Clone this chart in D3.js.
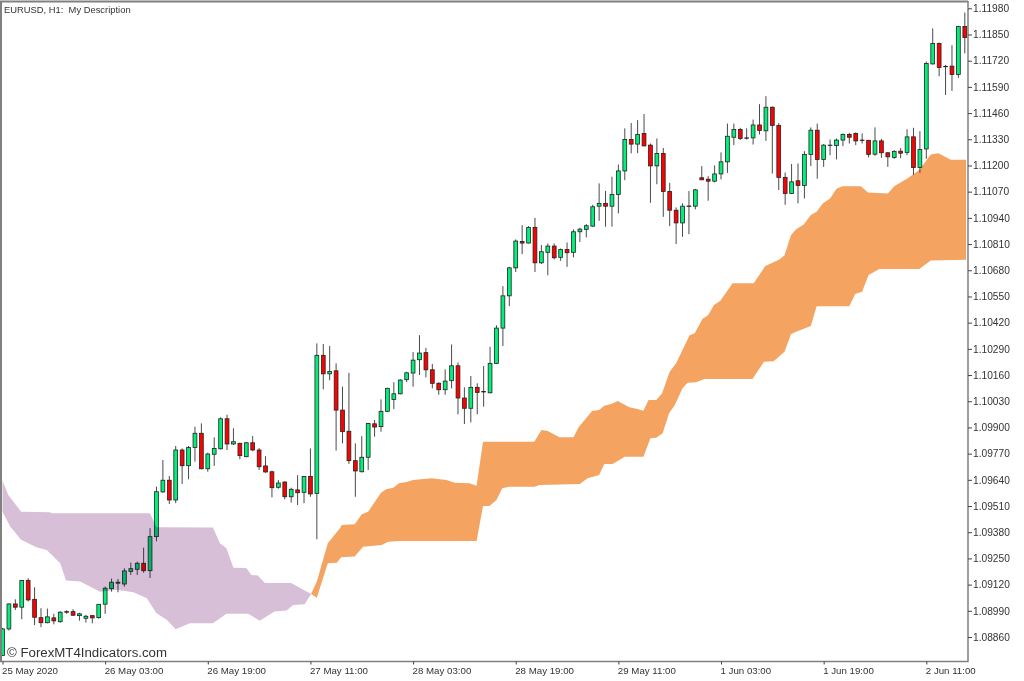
<!DOCTYPE html>
<html>
<head>
<meta charset="utf-8">
<script src="https://cdn.jsdelivr.net/npm/d3@7"></script>
<style>
  html, body { margin: 0; padding: 0; background: #fff; }
  svg { display: block; filter: blur(0.25px); }
  text { font-family: "Liberation Sans", Arial, sans-serif; fill: #333; }
</style>
</head>
<body>
<svg id="chart" width="1024" height="681"></svg>
<script>
const priceTicks = [1.11980, 1.11850, 1.11720, 1.11590, 1.11460, 1.11330, 1.11200, 1.11070, 1.10940, 1.10810,
  1.10680, 1.10550, 1.10420, 1.10290, 1.10160, 1.10030, 1.09900, 1.09770, 1.09640, 1.09510,
  1.09380, 1.09250, 1.09120, 1.08990, 1.08860]
const timeTicks = [0, 16, 32, 48, 64, 80, 96, 112, 128, 144]
const timeLabels = ['25 May 2020', '26 May 03:00', '26 May 19:00', '27 May 11:00', '28 May 03:00',
  '28 May 19:00', '29 May 11:00', '1 Jun 03:00', '1 Jun 19:00', '2 Jun 11:00']

const opens = [1.08768, 1.08900, 1.09024, 1.09008, 1.09140, 1.09047, 1.08956, 1.08931, 1.08955, 1.08936,
  1.08986, 1.08986, 1.08966, 1.08953, 1.08966, 1.08956, 1.09023, 1.09100, 1.09127, 1.09123,
  1.09186, 1.09196, 1.09226, 1.09189, 1.09358, 1.09580, 1.09638, 1.09540, 1.09788, 1.09710,
  1.09801, 1.09871, 1.09695, 1.09767, 1.09794, 1.09943, 1.09818, 1.09821, 1.09755, 1.09824,
  1.09788, 1.09709, 1.09680, 1.09603, 1.09629, 1.09556, 1.09590, 1.09578, 1.09657, 1.09573,
  1.10258, 1.10166, 1.10181, 1.09986, 1.09881, 1.09735, 1.09680, 1.09752, 1.09918, 1.09904,
  1.09980, 1.10039, 1.10067, 1.10137, 1.10170, 1.10236, 1.10271, 1.10186, 1.10119, 1.10087,
  1.10132, 1.10206, 1.10046, 1.09995, 1.10099, 1.10078, 1.10072, 1.10218, 1.10393, 1.10553,
  1.10692, 1.10823, 1.10815, 1.10893, 1.10717, 1.10769, 1.10800, 1.10744, 1.10783, 1.10769,
  1.10871, 1.10883, 1.10899, 1.10998, 1.11012, 1.10998, 1.11056, 1.11173, 1.11329, 1.11306,
  1.11359, 1.11301, 1.11198, 1.11260, 1.11071, 1.10978, 1.10915, 1.10999, 1.10998, 1.11139,
  1.11132, 1.11122, 1.11158, 1.11218, 1.11340, 1.11379, 1.11337, 1.11337, 1.11401, 1.11372,
  1.11489, 1.11399, 1.11141, 1.11061, 1.11124, 1.11101, 1.11255, 1.11375, 1.11230, 1.11299,
  1.11299, 1.11326, 1.11354, 1.11359, 1.11326, 1.11325, 1.11256, 1.11322, 1.11263, 1.11240,
  1.11271, 1.11265, 1.11342, 1.11190, 1.11282, 1.11704, 1.11805, 1.11692, 1.11693, 1.11651,
  1.11890]
const closes = [1.08900, 1.09024, 1.09008, 1.09140, 1.09044, 1.08958, 1.08931, 1.08960, 1.08940, 1.08983,
  1.08983, 1.08968, 1.08975, 1.08963, 1.08955, 1.09022, 1.09102, 1.09132, 1.09132, 1.09188,
  1.09199, 1.09226, 1.09189, 1.09358, 1.09581, 1.09638, 1.09540, 1.09788, 1.09710, 1.09801,
  1.09871, 1.09695, 1.09768, 1.09796, 1.09943, 1.09818, 1.09829, 1.09760, 1.09824, 1.09788,
  1.09705, 1.09679, 1.09601, 1.09624, 1.09556, 1.09593, 1.09576, 1.09657, 1.09570, 1.10258,
  1.10166, 1.10178, 1.09986, 1.09879, 1.09735, 1.09684, 1.09752, 1.09920, 1.09902, 1.09980,
  1.10094, 1.10067, 1.10135, 1.10171, 1.10234, 1.10269, 1.10186, 1.10119, 1.10087, 1.10130,
  1.10206, 1.10046, 1.09995, 1.10099, 1.10074, 1.10076, 1.10218, 1.10393, 1.10553, 1.10692,
  1.10825, 1.10815, 1.10893, 1.10717, 1.10772, 1.10800, 1.10742, 1.10783, 1.10767, 1.10871,
  1.10884, 1.10901, 1.10995, 1.11012, 1.10998, 1.11056, 1.11173, 1.11329, 1.11306, 1.11354,
  1.11297, 1.11198, 1.11260, 1.11071, 1.10978, 1.10915, 1.10998, 1.10997, 1.11079, 1.11129,
  1.11122, 1.11158, 1.11218, 1.11345, 1.11379, 1.11334, 1.11335, 1.11401, 1.11374, 1.11489,
  1.11399, 1.11141, 1.11061, 1.11119, 1.11101, 1.11255, 1.11375, 1.11230, 1.11301, 1.11301,
  1.11326, 1.11354, 1.11340, 1.11322, 1.11324, 1.11255, 1.11322, 1.11263, 1.11243, 1.11270,
  1.11261, 1.11342, 1.11190, 1.11279, 1.11706, 1.11805, 1.11686, 1.11690, 1.11651, 1.11890,
  1.11835]
const highs = [1.08905, 1.09027, 1.09047, 1.09141, 1.09152, 1.09107, 1.09003, 1.09001, 1.08975, 1.08988,
  1.08993, 1.08998, 1.08980, 1.08970, 1.08968, 1.09023, 1.09110, 1.09150, 1.09148, 1.09201,
  1.09229, 1.09234, 1.09303, 1.09400, 1.09606, 1.09738, 1.09659, 1.09808, 1.09796, 1.09808,
  1.09904, 1.09920, 1.09775, 1.09851, 1.09950, 1.09963, 1.09896, 1.09824, 1.09828, 1.09857,
  1.09798, 1.09757, 1.09685, 1.09639, 1.09633, 1.09601, 1.09663, 1.09658, 1.09796, 1.10317,
  1.10314, 1.10304, 1.10218, 1.10102, 1.10171, 1.09821, 1.09857, 1.09923, 1.09937, 1.10039,
  1.10097, 1.10124, 1.10140, 1.10176, 1.10274, 1.10358, 1.10295, 1.10215, 1.10125, 1.10188,
  1.10312, 1.10223, 1.10099, 1.10155, 1.10119, 1.10205, 1.10300, 1.10407, 1.10601, 1.10697,
  1.10833, 1.10904, 1.10899, 1.10940, 1.10805, 1.10813, 1.10813, 1.10788, 1.10818, 1.10883,
  1.10891, 1.10909, 1.11005, 1.11111, 1.11074, 1.11144, 1.11205, 1.11384, 1.11411, 1.11425,
  1.11455, 1.11309, 1.11334, 1.11287, 1.11114, 1.10992, 1.11012, 1.11073, 1.11084, 1.11197,
  1.11147, 1.11200, 1.11265, 1.11408, 1.11408, 1.11387, 1.11384, 1.11428, 1.11504, 1.11544,
  1.11493, 1.11411, 1.11165, 1.11207, 1.11210, 1.11271, 1.11389, 1.11408, 1.11306, 1.11329,
  1.11334, 1.11359, 1.11362, 1.11364, 1.11359, 1.11326, 1.11389, 1.11332, 1.11266, 1.11276,
  1.11286, 1.11380, 1.11387, 1.11370, 1.11716, 1.11880, 1.11810, 1.11699, 1.11797, 1.11893,
  1.11959]
const lows = [1.08766, 1.08892, 1.08994, 1.08948, 1.09036, 1.08919, 1.08909, 1.08928, 1.08923, 1.08931,
  1.08975, 1.08965, 1.08941, 1.08931, 1.08928, 1.08951, 1.08975, 1.09085, 1.09082, 1.09110,
  1.09168, 1.09168, 1.09179, 1.09153, 1.09335, 1.09576, 1.09520, 1.09524, 1.09619, 1.09643,
  1.09730, 1.09692, 1.09680, 1.09709, 1.09791, 1.09788, 1.09813, 1.09742, 1.09752, 1.09782,
  1.09689, 1.09675, 1.09553, 1.09596, 1.09543, 1.09527, 1.09515, 1.09524, 1.09556, 1.09345,
  1.10089, 1.10134, 1.09785, 1.09821, 1.09719, 1.09556, 1.09677, 1.09689, 1.09854, 1.09879,
  1.09976, 1.09991, 1.10064, 1.10125, 1.10102, 1.10160, 1.10149, 1.10094, 1.10062, 1.10062,
  1.10094, 1.09965, 1.09917, 1.09925, 1.09965, 1.10003, 1.10069, 1.10215, 1.10304, 1.10502,
  1.10671, 1.10760, 1.10813, 1.10671, 1.10711, 1.10655, 1.10734, 1.10727, 1.10697, 1.10744,
  1.10821, 1.10843, 1.10896, 1.10925, 1.10896, 1.10896, 1.10962, 1.11127, 1.11260, 1.11261,
  1.11296, 1.11015, 1.11107, 1.10945, 1.10899, 1.10810, 1.10846, 1.10859, 1.10982, 1.11127,
  1.11025, 1.11116, 1.11131, 1.11163, 1.11301, 1.11326, 1.11329, 1.11304, 1.11354, 1.11322,
  1.11160, 1.11078, 1.11005, 1.11058, 1.11012, 1.11036, 1.11197, 1.11134, 1.11193, 1.11251,
  1.11230, 1.11296, 1.11309, 1.11301, 1.11309, 1.11240, 1.11248, 1.11238, 1.11193, 1.11233,
  1.11236, 1.11251, 1.11153, 1.11163, 1.11233, 1.11701, 1.11643, 1.11550, 1.11570, 1.11635,
  1.11756]

// cloud outlines as [bar, price]
const bearTop = [[0, 1.09636], [0.9, 1.09565], [2.9, 1.09482], [7.4, 1.09479], [7.7, 1.09474], [23, 1.09474], [24, 1.09405],
  [32.8, 1.09403], [33.9, 1.09325], [34.9, 1.09300], [36, 1.09204], [38, 1.09203], [38.8, 1.09168], [39.8, 1.09165],
  [40.9, 1.09128], [45, 1.09128], [48.1, 1.09074]]
const bearBottom = [[0, 1.09482], [1.2, 1.09408], [2.9, 1.09342], [5.3, 1.09305], [6.9, 1.09292], [9, 1.09226], [9.9, 1.09140],
  [12.1, 1.09135], [15.2, 1.09085], [17.8, 1.09094], [20.4, 1.09082], [22.5, 1.09052], [24, 1.08978], [25.6, 1.08945],
  [27, 1.08899], [29.2, 1.08928], [32.8, 1.08928], [34.9, 1.08975], [38.3, 1.08975], [40.1, 1.08941], [42.4, 1.08986],
  [44.3, 1.08991], [45.3, 1.09019], [47.1, 1.09023], [48.1, 1.09074]]
const bullTop = [[48.1, 1.09074], [49, 1.09135], [50.7, 1.09325], [52.6, 1.09400], [52.9, 1.09416], [54.9, 1.09420], [56, 1.09469],
  [57, 1.09482], [59, 1.09576], [59.8, 1.09593], [60.9, 1.09601], [61.8, 1.09623], [63, 1.09629], [64, 1.09639],
  [66.9, 1.09648], [69.2, 1.09639], [70.5, 1.09626], [72.8, 1.09623], [73.9, 1.09611], [74.9, 1.09829], [82.9, 1.09829],
  [84, 1.09887], [85, 1.09882], [86.8, 1.09851], [89, 1.09851], [89.8, 1.09901], [91.9, 1.09981], [93, 1.09986],
  [93.8, 1.10008], [94.9, 1.10016], [95.9, 1.10031], [97.7, 1.10000], [99, 1.09991], [99.9, 1.09983], [100.7, 1.10036],
  [101.9, 1.10036], [102.8, 1.10069], [104, 1.10176], [105, 1.10218], [107.1, 1.10358], [107.9, 1.10367], [109.1, 1.10438],
  [110, 1.10458], [110.9, 1.10507], [111.9, 1.10529], [113.8, 1.10615], [117.1, 1.10615], [118.9, 1.10701], [121.1, 1.10734],
  [121.9, 1.10755], [122.9, 1.10854], [123.7, 1.10884], [124.9, 1.10907], [126, 1.10954], [126.9, 1.10970], [127.9, 1.11012],
  [129, 1.11036], [130, 1.11084], [130.9, 1.11097], [133.8, 1.11097], [134.9, 1.11066], [138, 1.11061], [139, 1.11097],
  [141.1, 1.11136], [142.9, 1.11177], [144.7, 1.11255], [145.9, 1.11261], [147.8, 1.11228], [150.2, 1.11228]]
const bullBottom = [[48.1, 1.09074], [49, 1.09055], [50.7, 1.09226], [52.1, 1.09229], [52.8, 1.09256], [54.9, 1.09259], [56.2, 1.09308],
  [59.1, 1.09317], [60.1, 1.09333], [61.9, 1.09337], [73.9, 1.09337], [74.9, 1.09510], [75.9, 1.09510], [77, 1.09540],
  [77.9, 1.09598], [79, 1.09606], [82.9, 1.09606], [83.7, 1.09614], [90, 1.09619], [91.2, 1.09648], [93, 1.09664],
  [93.8, 1.09719], [95.1, 1.09719], [97, 1.09755], [99.9, 1.09755], [101, 1.09846], [101.9, 1.09849], [102.9, 1.09871],
  [103.9, 1.09970], [104.8, 1.10011], [106, 1.10094], [106.8, 1.10122], [108.1, 1.10124], [109.4, 1.10140], [116.9, 1.10140],
  [118.7, 1.10226], [120.2, 1.10229], [121.9, 1.10276], [122.9, 1.10362], [123.7, 1.10375], [126, 1.10403], [126.9, 1.10502],
  [132, 1.10502], [132.9, 1.10562], [134, 1.10573], [135, 1.10656], [136.7, 1.10686], [142.9, 1.10686], [144.7, 1.10729],
  [150.2, 1.10732]]

const upColor = '#00f07a'
const downColor = '#ff0000'
const frameColor = '#808080'

const paneRight = 968
const paneBottom = 661.5

const svg = d3.select('#chart')
const x = d3.scaleLinear().domain([0, 150]).range([2.5, 964.8])
const y = d3.scaleLinear().domain([1.0886, 1.1198]).range([637, 8.3])

const cloudLine = d3.line().x(d => x(d[0])).y(d => y(d[1]))
const outline = (top, bottom) => cloudLine(top.concat(bottom.slice().reverse()))

// clip so nothing spills past the pane frame
svg.append('clipPath').attr('id', 'pane').append('rect')
  .attr('x', 2).attr('y', 2).attr('width', paneRight - 2).attr('height', paneBottom - 2)

const plot = svg.append('g').attr('clip-path', 'url(#pane)')

plot.append('path').attr('d', outline(bullTop, bullBottom)).attr('fill', '#f4a460')

const bars = plot.append('g').selectAll('g')
  .data(d3.range(opens.length))
  .join('g')

bars.append('line')
  .attr('x1', i => x(i)).attr('x2', i => x(i))
  .attr('y1', i => y(highs[i])).attr('y2', i => y(lows[i]))
  .attr('stroke', '#4a4a4a')
  .attr('stroke-width', 1)

bars.append('rect')
  .attr('x', i => x(i) - 1.9)
  .attr('width', 3.8)
  .attr('y', i => y(Math.max(opens[i], closes[i])))
  .attr('height', i => Math.abs(y(opens[i]) - y(closes[i])))
  .attr('fill', i => closes[i] >= opens[i] ? upColor : downColor)
  .attr('stroke', '#222')
  .attr('stroke-width', 0.8)

// the falling cloud tints the candles that sit on it
plot.append('path').attr('d', outline(bearTop, bearBottom))
  .attr('fill', '#d8bfd8')
  .style('mix-blend-mode', 'multiply')

const frame = svg.append('g').attr('fill', 'none').attr('stroke', frameColor)
frame.append('path').attr('stroke-width', 2).attr('d', `M1,${paneBottom}V1.5H${paneRight}`)
frame.append('path').attr('stroke-width', 1.5).attr('d', `M${paneRight},1V${paneBottom}H0`)

const yAxis = d3.axisRight(y)
  .tickValues(priceTicks)
  .tickFormat(d3.format('.5f'))
  .tickSize(4)
  .tickPadding(1)
const yAxisG = svg.append('g').attr('transform', `translate(${paneRight},0)`).call(yAxis)
yAxisG.select('.domain').remove()
yAxisG.selectAll('line').attr('stroke', '#444')
yAxisG.selectAll('text').attr('font-size', 10.2).attr('font-family', '"Liberation Sans"')

const xAxis = d3.axisBottom(x)
  .tickValues(timeTicks)
  .tickFormat((d, i) => timeLabels[i])
  .tickSize(3)
  .tickPadding(3)
const xAxisG = svg.append('g').attr('transform', `translate(0,${paneBottom})`).call(xAxis)
xAxisG.select('.domain').remove()
xAxisG.selectAll('line').attr('stroke', '#444')
xAxisG.selectAll('text')
  .attr('text-anchor', 'start')
  .attr('dx', -1)
  .attr('font-size', 9.7)
  .attr('font-family', '"Liberation Sans"')

svg.append('text')
  .attr('x', 4).attr('y', 12.5)
  .attr('font-size', 9.4)
  .style('white-space', 'pre')
  .text('EURUSD, H1:  My Description')

svg.append('text')
  .attr('x', 7).attr('y', 657)
  .attr('font-size', 13.25)
  .text('© ForexMT4Indicators.com')
</script>
</body>
</html>
